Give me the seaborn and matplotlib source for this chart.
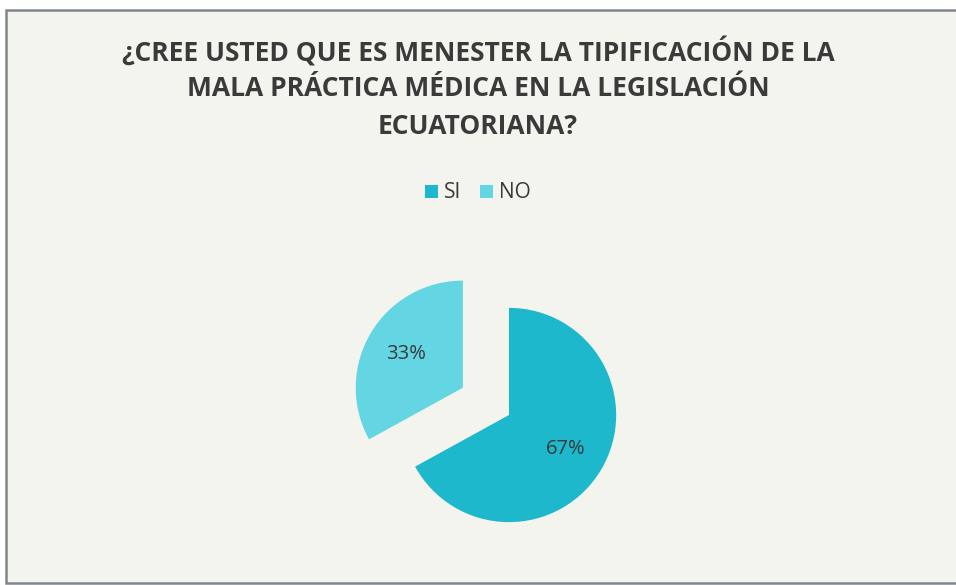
import matplotlib
matplotlib.use("Agg")
import matplotlib.pyplot as plt
from matplotlib.patches import Rectangle
import seaborn as sns

# Survey answers
categories = ["SI", "NO"]
shares = [67, 33]
title_lines = [
    "¿CREE USTED QUE ES MENESTER LA TIPIFICACIÓN DE LA",
    "MALA PRÁCTICA MÉDICA EN LA LEGISLACIÓN",
    "ECUATORIANA?",
]

sns.set_theme(style="white")
plt.rcParams["font.family"] = ["Open Sans", "DejaVu Sans"]

colors = ["#1DB8CC", "#64D5E2"]
text_color = "#3A3A3A"

W, H = 956, 585
fig = plt.figure(figsize=(W / 100, H / 100), dpi=100, facecolor="white")

# chart area panel with its frame, kept behind everything else
fig.patches.append(Rectangle((6 / W, 2 / H), 1.0, 573 / H, transform=fig.transFigure,
                             facecolor="#F4F4EE", edgecolor="#7E868C", linewidth=1.8,
                             zorder=-10))

# title
for i, line in enumerate(title_lines):
    fig.text(0.5, 1 - (52 + 37 * i) / H, line, ha="center", va="center",
             fontsize=19, fontweight="bold", color=text_color)

# pie axes: centre at (509, 415) px, radius ~107 px
size = 300
cx, cy = 509, H - 415
ax = fig.add_axes([(cx - size / 2) / W, (cy - size / 2) / H, size / W, size / H])
ax.set_facecolor("none")
ax.set_zorder(5)
wedges, texts, autotexts = ax.pie(
    shares, colors=colors, startangle=90, counterclock=False,
    explode=[0, 0.5], autopct="%1.0f%%", pctdistance=0.62,
    textprops=dict(fontsize=14.5, color=text_color),
    wedgeprops=dict(linewidth=0),
)
ax.set_xlim(-1.4, 1.4)
ax.set_ylim(-1.4, 1.4)
ax.set_aspect("equal")
ax.axis("off")

# legend
handles = [Rectangle((0, 0), 1, 1, facecolor=c, edgecolor="none") for c in colors]
fig.legend(handles, categories, loc="center", bbox_to_anchor=(0.5, 1 - 193 / H),
           ncol=2, frameon=False, fontsize=15, handlelength=0.6, handleheight=0.6,
           handletextpad=0.3, columnspacing=0.9, labelcolor=text_color)

fig.savefig("out.png", dpi=100, facecolor="white")
